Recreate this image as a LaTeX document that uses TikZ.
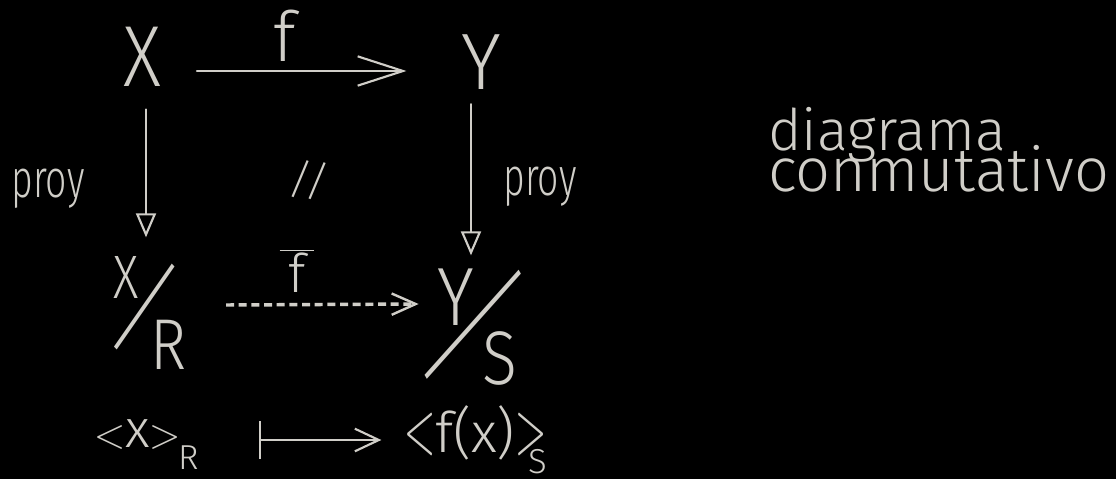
\documentclass[tikz,border=0pt]{standalone}
\usepackage{fontspec}
\usepackage{graphicx}
\usetikzlibrary{arrows.meta,calc}
\IfFontExistsTF{Fira Sans Light}{\setmainfont{Fira Sans Light}}{\setmainfont{Fira Sans}}
\newfontfamily\lmm{Latin Modern Math}
\definecolor{ink}{RGB}{208,206,200}
\newcommand{\fs}[1]{\fontsize{#1}{#1}\selectfont}
\newcommand{\hsq}[2]{\scalebox{#1}[1]{#2}}
\newcommand{\vst}[2]{\scalebox{1}[#1]{#2}}
\newcommand{\lsm}{{\lmm\fs{30}<}}
\newcommand{\rsm}{{\lmm\fs{30}>}}
\newcommand{\lbig}{{\lmm\fs{30}\vst{1.8}{<}}}
\newcommand{\rbig}{{\lmm\fs{30}\vst{1.8}{>}}}
\begin{document}
\begin{tikzpicture}[x=0.75pt,y=-0.75pt,
  every node/.style={text=ink, inner sep=0pt, outer sep=0pt},
  inkline/.style={draw=ink, line width=1.6pt, line cap=round, line join=round},
  vhead/.style={-{Triangle[open,length=18pt,width=15pt]}},
  dashline/.style={draw=ink, line width=2.6pt, dash pattern=on 6pt off 3.5pt}]
\fill[black] (0,0) rectangle (1116,479);
\useasboundingbox (0,0) rectangle (1116,479);
% top row
\node (X) at (142,57) {\fs{65}\hsq{0.85}{X}};
\node (Y) at (481,62) {\fs{60}\hsq{0.95}{Y}};
\node (flbl) at (285,36) {\fs{52}f};
% side labels
\node[anchor=base] (proyL) at (48,197) {\fs{40}\hsq{0.7}{proy}};
\node[anchor=base] (proyR) at (540,195) {\fs{40}\hsq{0.7}{proy}};
\node[rotate=-8] (eq) at (309,180) {\fs{32}//};
% quotients
\node (Xq) at (126,277) {\fs{46}\hsq{0.8}{X}};
\node[rotate=-25] (sl1) at (145,307) {\fs{56}\vst{1.5}{/}};
\node (Rq) at (169,345) {\fs{54}\hsq{0.85}{R}};
\node (fbar) at (297,271) {\fs{40}$\overline{\hbox{\,f\,}}$};
\node (Yq) at (456,297) {\fs{62}\hsq{0.85}{Y}};
\node[rotate=-34] (sl2) at (473,325) {\fs{62}\vst{1.9}{/}};
\node (Sq) at (500,358) {\fs{57}\hsq{0.85}{S}};
% bottom row
\node[anchor=base west] (xR) at (94,447)
  {\fs{40}\lsm x\rsm\kern-2pt\raisebox{-17pt}{\fs{26}R}};
\node[anchor=base west] (fxS) at (404,452)
  {\fs{42}\lbig f(x)\rbig\kern-13pt\raisebox{-16pt}{\fs{26}S}};
% text
\node[anchor=base west] (d1) at (768,150) {\fs{43}diagrama};
\node[anchor=base west] (d2) at (768,191) {\fs{46}conmutativo};
% arrows
\draw[inkline, -{Straight Barb[length=34pt,width=22pt]}, shorten <=27pt, shorten >=41pt]
  ($(X.east)+(0,14)$) -- ($(Y.west)+(0,9)$);
\draw[inkline, vhead, shorten <=17pt, shorten >=14pt]
  ($(X.south)+(4,0)$) -- ($(X.south |- Xq.north)+(4,0)$);
\draw[inkline, vhead, shorten <=11pt, shorten >=10pt]
  ($(Y.south)+(-10,0)$) -- ($(Y.south |- Yq.north)+(-10,0)$);
\draw[dashline, -{Straight Barb[length=18pt,width=16pt,line width=1.8pt]}]
  ($(Rq.east)+(39,-40)$) -- ($(Yq.west)+(-19,7)$);
\draw[inkline, {Bar[width=28pt]}-{Straight Barb[length=18pt,width=17pt]}, shorten <=45pt, shorten >=17pt]
  ($(xR.base east)+(0,-7)$) -- ($(fxS.base west)+(0,-12)$);
\end{tikzpicture}
\end{document}
